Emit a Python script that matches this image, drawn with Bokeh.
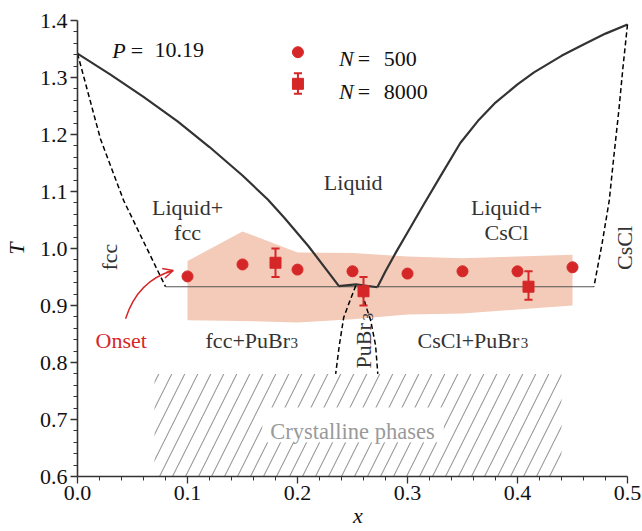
import math
from bokeh.plotting import figure
from bokeh.models import (Range1d, FixedTicker, PrintfTickFormatter, Label,
                          ColumnDataSource, Arrow, OpenHead)
from bokeh.embed import file_html
from bokeh.resources import INLINE

FONT = "'Liberation Serif', 'Times New Roman', serif"
RED = "#d62728"
DARK = "#333333"

# ---- data ----
liq_left_x = [0.0, 0.03, 0.06, 0.091, 0.12, 0.15, 0.173, 0.188, 0.21, 0.2377]
liq_left_y = [1.342, 1.305, 1.266, 1.223, 1.178, 1.128, 1.086, 1.054, 1.004, 0.934]
liq_right_x = [0.2726, 0.28, 0.29, 0.30, 0.315, 0.33, 0.348, 0.365, 0.38, 0.40, 0.415, 0.44, 0.46, 0.48, 0.5]
liq_right_y = [0.932, 0.960, 0.995, 1.028, 1.078, 1.127, 1.185, 1.226, 1.256, 1.288, 1.309, 1.338, 1.358, 1.377, 1.393]
eut_x = [0.2377, 0.253, 0.2726]
eut_y = [0.934, 0.937, 0.932]
sol_fcc_x = [0.0, 0.0209, 0.042, 0.0573, 0.08]
sol_fcc_y = [1.342, 1.192, 1.084, 1.023, 0.933]
sol_cscl_x = [0.5, 0.496, 0.492, 0.4875, 0.4834, 0.477, 0.4695]
sol_cscl_y = [1.393, 1.32, 1.24, 1.16, 1.084, 1.01, 0.933]
pub_left_x = [0.253, 0.246, 0.242, 0.238, 0.2347]
pub_left_y = [0.935, 0.9, 0.879, 0.83, 0.78]
pub_right_x = [0.257, 0.262, 0.2665, 0.271, 0.273]
pub_right_y = [0.935, 0.9, 0.874, 0.83, 0.78]
eutectic_x = [0.08, 0.4695]
eutectic_y = [0.933, 0.933]

band_x = [0.1, 0.15, 0.2, 0.25, 0.3, 0.35, 0.4, 0.45]
band_upper = [0.978, 1.030, 0.993, 0.992, 0.986, 0.983, 0.986, 0.989]
band_lower = [0.874, 0.873, 0.870, 0.876, 0.884, 0.886, 0.893, 0.900]

n500_x = [0.1, 0.15, 0.2, 0.25, 0.3, 0.35, 0.4, 0.45]
n500_y = [0.951, 0.972, 0.963, 0.960, 0.956, 0.960, 0.960, 0.967]

n8000_x = [0.18, 0.26, 0.41]
n8000_y = [0.975, 0.925, 0.933]
n8000_lo = [0.950, 0.900, 0.910]
n8000_hi = [1.000, 0.950, 0.960]

x_major = [0.0, 0.1, 0.2, 0.3, 0.4, 0.5]
y_major = [0.6, 0.7, 0.8, 0.9, 1.0, 1.1, 1.2, 1.3, 1.4]

p = figure(width=642, height=531, output_backend="svg", toolbar_location=None,
           x_range=Range1d(0, 0.51), y_range=Range1d(0.6, 1.4),
           min_border_left=77, min_border_right=4, min_border_top=20, min_border_bottom=55)
p.outline_line_color = None
p.grid.visible = False
p.background_fill_color = "white"
p.border_fill_color = "white"

x_minor = [round(a + k * 0.02, 3) for a in x_major[:-1] for k in range(1, 5)]
y_minor = [round(a + k * 0.02, 3) for a in y_major[:-1] for k in range(1, 5)]
p.xaxis[0].ticker = FixedTicker(ticks=x_major, minor_ticks=x_minor)
p.yaxis[0].ticker = FixedTicker(ticks=y_major, minor_ticks=y_minor)
p.xaxis[0].bounds = (0, 0.5)
p.yaxis[0].bounds = (0.6, 1.4)

for ax in (p.xaxis[0], p.yaxis[0]):
    ax.formatter = PrintfTickFormatter(format="%.1f")
    ax.axis_line_color = DARK
    ax.axis_line_width = 1.6
    ax.major_tick_line_color = DARK
    ax.minor_tick_line_color = DARK
    ax.major_tick_line_width = 1.3
    ax.minor_tick_line_width = 1.0
    ax.major_tick_out = 7
    ax.major_tick_in = 0
    ax.minor_tick_out = 4
    ax.minor_tick_in = 0
    ax.major_label_text_font = FONT
    ax.major_label_text_font_size = "22px"
    ax.major_label_text_color = "#111111"
    ax.axis_label_text_font = FONT
    ax.axis_label_text_font_size = "22px"
    ax.axis_label_text_font_style = "italic"
    ax.axis_label_text_color = "#111111"

p.xaxis.axis_label = "x"
p.yaxis.axis_label = "T"
p.xaxis.major_label_standoff = 2
p.xaxis.axis_label_standoff = 0
p.yaxis.major_label_standoff = 3
p.yaxis.axis_label_standoff = 8

# band
p.patch(band_x + band_x[::-1], band_upper + band_lower[::-1],
        fill_color="#f3cbb8", line_color=None)

# hatched crystalline region
p.quad(left=0.07, right=0.44, bottom=0.6, top=0.78, fill_color=None, line_color=None,
       hatch_pattern="/", hatch_color="#9a9a9a", hatch_scale=26, hatch_weight=1.1)
p.quad(left=0.168, right=0.333, bottom=0.660, top=0.721, fill_color="white", line_color=None)

# lines
p.line(eutectic_x, eutectic_y, line_color="#555555", line_width=1.1)
p.line(liq_left_x, liq_left_y, line_color=DARK, line_width=2.2)
p.line(liq_right_x, liq_right_y, line_color=DARK, line_width=2.2)
p.line(eut_x, eut_y, line_color=DARK, line_width=2.2)
for xs, ys in ((sol_fcc_x, sol_fcc_y), (sol_cscl_x, sol_cscl_y),
               (pub_left_x, pub_left_y), (pub_right_x, pub_right_y)):
    p.line(xs, ys, line_color="black", line_width=1.5, line_dash="5 3")

# points
p.scatter(n500_x, n500_y, marker="circle", size=11, fill_color=RED, line_color=RED)
src = ColumnDataSource(dict(x=n8000_x, y=n8000_y, lo=n8000_lo, hi=n8000_hi,
                            xl=[v - 0.0037 for v in n8000_x], xr=[v + 0.0037 for v in n8000_x]))
p.segment(x0="x", y0="lo", x1="x", y1="hi", source=src, line_color=RED, line_width=2)
p.segment(x0="xl", y0="lo", x1="xr", y1="lo", source=src, line_color=RED, line_width=2)
p.segment(x0="xl", y0="hi", x1="xr", y1="hi", source=src, line_color=RED, line_width=2)
p.scatter("x", "y", source=src, marker="square", size=11, fill_color=RED, line_color=RED)

# legend (manual)
p.scatter([0.2004], [1.3444], marker="circle", size=11, fill_color=RED, line_color=RED)
p.segment([0.2004], [1.2714], [0.2004], [1.3076], line_color=RED, line_width=2)
p.segment([0.2004 - 0.0037], [1.3076], [0.2004 + 0.0037], [1.3076], line_color=RED, line_width=2)
p.segment([0.2004 - 0.0037], [1.2714], [0.2004 + 0.0037], [1.2714], line_color=RED, line_width=2)
p.scatter([0.2004], [1.2889], marker="square", size=11, fill_color=RED, line_color=RED)


def lab(x, y, text, size="22px", color=DARK, style="normal", align="left",
        baseline="alphabetic", angle=0.0):
    p.add_layout(Label(x=x, y=y, text=text, text_font=FONT, text_font_size=size,
                       text_color=color, text_font_style=style, text_align=align,
                       text_baseline=baseline, angle=angle))


lab(0.2377, 1.3328, "N", style="italic", color="#111111")
lab(0.2547, 1.3328, "=", color="#111111")
lab(0.2783, 1.3328, "500", color="#111111")
lab(0.2377, 1.2754, "N", style="italic", color="#111111")
lab(0.2547, 1.2754, "=", color="#111111")
lab(0.2783, 1.2754, "8000", color="#111111")

lab(0.0316, 1.3474, "P", style="italic", color="#111111")
lab(0.0485, 1.3474, "=", color="#111111")
lab(0.0700, 1.3474, "10.19", color="#111111")

lab(0.2506, 1.1158, "Liquid", align="center")
lab(0.1000, 1.0725, "Liquid+", align="center")
lab(0.1000, 1.0286, "fcc", align="center")
lab(0.3900, 1.0725, "Liquid+", align="center")
lab(0.3900, 1.0286, "CsCl", align="center")

lab(0.0287, 0.985, "fcc", align="center", baseline="middle", angle=math.pi / 2)
lab(0.4975, 1.001, "CsCl", align="center", baseline="middle", angle=math.pi / 2)
# PuBr3 rotated
lab(0.2597, 0.7895, "PuBr", angle=math.pi / 2)
lab(0.2638, 0.8737, "3", size="15px", angle=math.pi / 2)

lab(0.1164, 0.8386, "fcc+PuBr")
lab(0.1937, 0.8338, "3", size="15px")
lab(0.3092, 0.8386, "CsCl+PuBr")
lab(0.4030, 0.8338, "3", size="15px")

lab(0.2500, 0.6795, "Crystalline phases", color="#999999", align="center", size="22.5px")

lab(0.0164, 0.8386, "Onset", color=RED)
# onset arrow
p.quadratic(x0=[0.0437], y0=[0.8767], x1=[0.0870], y1=[0.9614], cx=[0.0548], cy=[0.944],
            line_color=RED, line_width=1.5)
p.add_layout(Arrow(end=OpenHead(size=10, line_color=RED, line_width=1.5),
                   x_start=0.0806, y_start=0.9579, x_end=0.0870, y_end=0.9614,
                   line_color=RED, line_width=1.5))

open("out.html", "w").write(file_html(p, INLINE))
